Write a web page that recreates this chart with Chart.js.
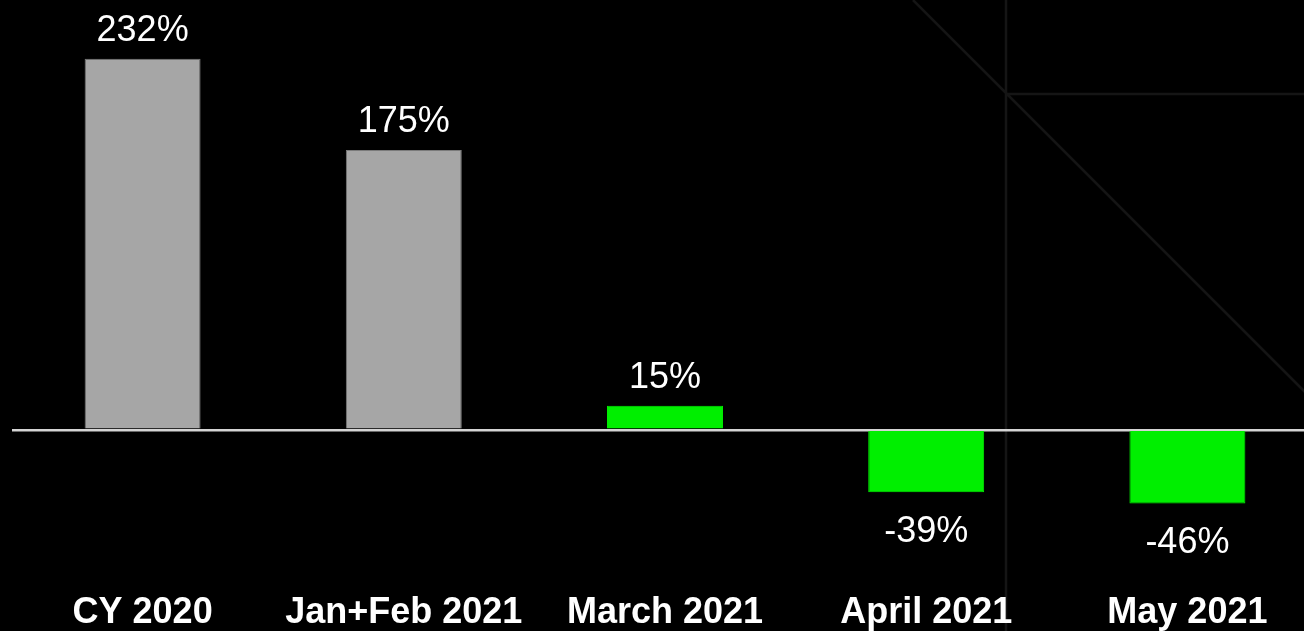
<!DOCTYPE html>
<html>
<head>
<meta charset="utf-8">
<script src="https://cdn.jsdelivr.net/npm/chart.js@4/dist/chart.umd.min.js"></script>
<style>
  html, body { margin: 0; padding: 0; background: #000; overflow: hidden; }
  canvas { display: block; }
</style>
</head>
<body>
<canvas id="growthChart" width="1318" height="635"></canvas>
<script>
const periods = ['CY 2020', 'Jan+Feb 2021', 'March 2021', 'April 2021', 'May 2021'];
const growth = [232, 175, 15, -39, -46];
const barColors = ['#a6a6a6', '#a6a6a6', '#00ef00', '#00ef00', '#00ef00'];
const barEdges = ['#7a7a7a', '#7a7a7a', '#00ef00', '#00ef00', '#00ef00'];

// faint line pattern behind the bars (top right corner)
const backdrop = {
    id: 'backdrop',
    beforeDraw(chart) {
        const ctx = chart.ctx;
        ctx.save();
        ctx.fillStyle = '#000';
        ctx.fillRect(0, 0, chart.width, chart.height);
        ctx.strokeStyle = '#151515';
        ctx.lineWidth = 2.5;
        ctx.beginPath();
        ctx.moveTo(1006, 0);
        ctx.lineTo(1006, chart.height);
        ctx.moveTo(1006, 94);
        ctx.lineTo(chart.width, 94);
        ctx.moveTo(913, 0);
        ctx.lineTo(1313, 400);
        ctx.stroke();
        ctx.restore();
    }
};

// percentage above / below each bar
const valueLabels = {
    id: 'valueLabels',
    afterDatasetsDraw(chart) {
        const ctx = chart.ctx;
        const meta = chart.getDatasetMeta(0);
        ctx.save();
        ctx.fillStyle = '#fff';
        ctx.font = '36px "Liberation Sans", Arial, sans-serif';
        ctx.textAlign = 'center';
        ctx.textBaseline = 'alphabetic';
        meta.data.forEach((bar, i) => {
            const v = growth[i];
            const y = v >= 0 ? bar.y - 18 : bar.y + 50;
            ctx.fillText(v + '%', bar.x, y);
        });
        ctx.restore();
    }
};

const ctx = document.getElementById('growthChart').getContext('2d');
const growthChart = new Chart(ctx, {
    type: 'bar',
    data: {
        labels: periods,
        datasets: [{
            data: growth,
            backgroundColor: barColors,
            borderColor: barEdges,
            borderWidth: 1,
            barPercentage: 0.444,
            categoryPercentage: 1
        }]
    },
    options: {
        responsive: false,
        animation: false,
        layout: { padding: { left: 12, right: 0, top: 0, bottom: 0 } },
        plugins: {
            legend: { display: false },
            tooltip: { enabled: false }
        },
        scales: {
            x: {
                grid: { display: false, drawTicks: false },
                border: { display: false },
                ticks: {
                    color: '#fff',
                    padding: 0,
                    maxRotation: 0,
                    autoSkip: false,
                    font: { family: '"Liberation Sans", Arial, sans-serif', size: 36, weight: 'bold' }
                }
            },
            y: {
                min: -101.25,
                max: 268.75,
                ticks: { display: false, stepSize: 50 },
                border: { display: false },
                grid: {
                    drawTicks: false,
                    lineWidth: 2.5,
                    color: c => c.tick.value === 0 ? '#d4d4d4' : 'rgba(0,0,0,0)'
                }
            }
        }
    },
    plugins: [backdrop, valueLabels]
});
</script>
</body>
</html>
